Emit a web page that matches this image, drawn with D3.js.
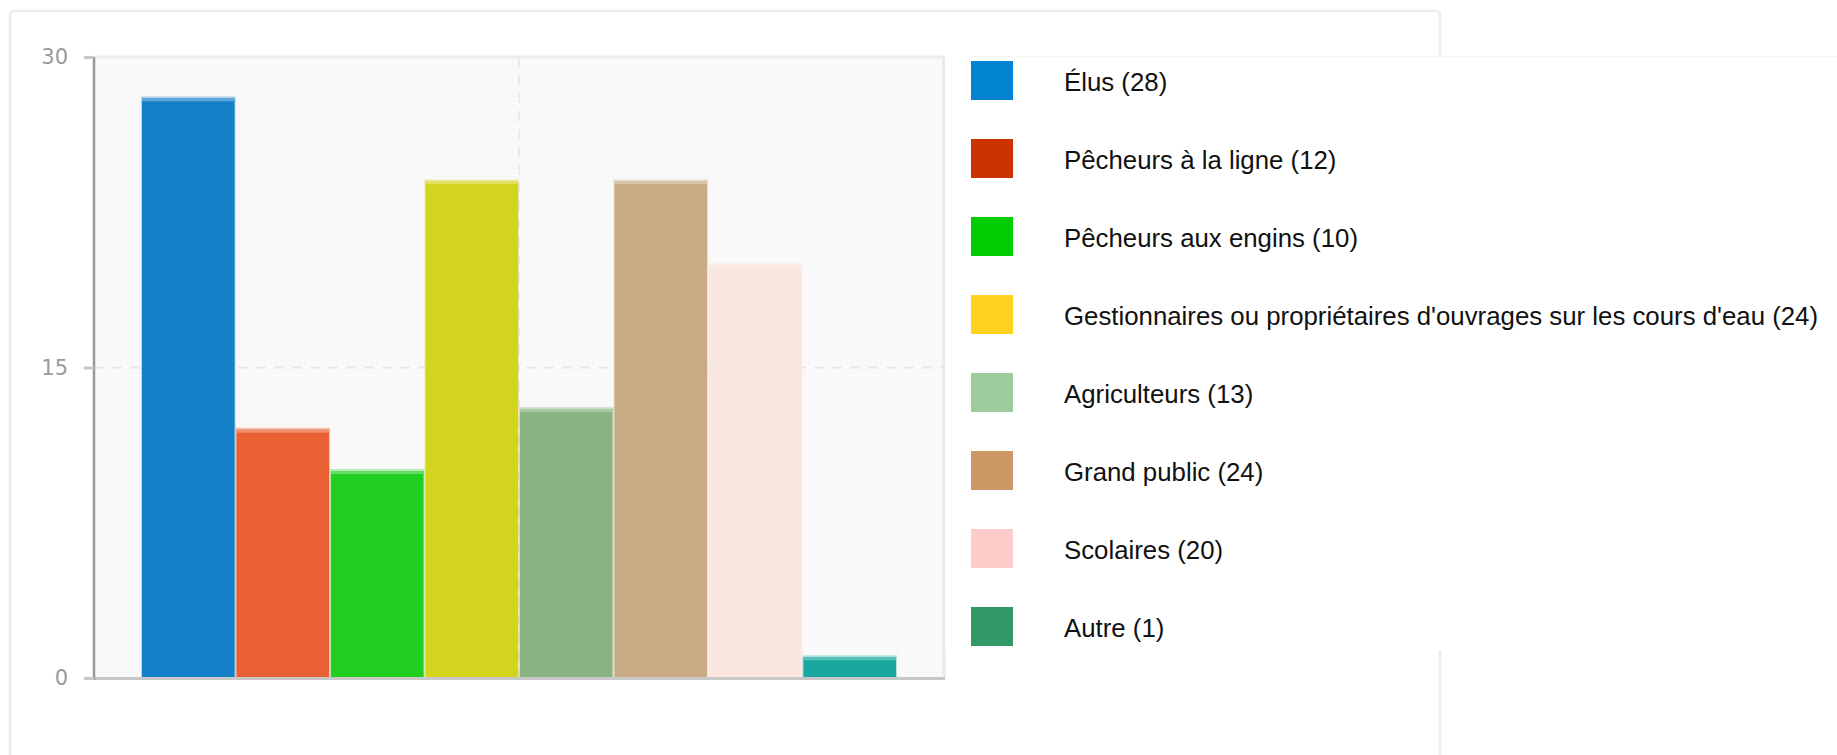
<!DOCTYPE html>
<html>
<head>
<meta charset="utf-8">
<script src="https://cdn.jsdelivr.net/npm/d3@7"></script>
<style>
  html, body { margin: 0; padding: 0; background: #ffffff; }
  svg { display: block; }
</style>
</head>
<body>
<svg id="chart" width="1837" height="755"></svg>
<script>
// ---- data ----
const categories = ["Élus", "Pêcheurs à la ligne", "Pêcheurs aux engins",
  "Gestionnaires ou propriétaires d'ouvrages sur les cours d'eau",
  "Agriculteurs", "Grand public", "Scolaires", "Autre"];
const values = [28, 12, 10, 24, 13, 24, 20, 1];
const barColors = ["#1480C8", "#E86034", "#21CF21", "#D3D41E", "#8AB383", "#C8AB84", "#F9E7DF", "#19A89F"];
const legendColors = ["#0084D1", "#CC3300", "#00CC00", "#FFD320", "#9CCC9C", "#CC9966", "#FFCCCC", "#339966"];
const yTicks = [0, 15, 30];

const svg = d3.select("#chart");

// card
svg.append("rect").attr("x", 10).attr("y", 11).attr("width", 1430).attr("height", 760)
  .attr("rx", 4).attr("fill", "#fff").attr("stroke", "#ececec").attr("stroke-width", 2.5);

// plot area
const plot = {left: 94, right: 944, top: 57, bottom: 678};
const y = d3.scaleLinear().domain([0, 30]).range([plot.bottom, plot.top]);
const x = d3.scaleBand().domain(categories).range([142, 896]).paddingInner(0.02).paddingOuter(0);
const gx = d3.scaleLinear().domain([0, 1]).range([plot.left, plot.right]);

// background pattern
const defs = svg.append("defs");
const pat = defs.append("pattern").attr("id", "bgpat").attr("width", 4).attr("height", 4)
  .attr("patternUnits", "userSpaceOnUse");
pat.append("rect").attr("width", 4).attr("height", 4).attr("fill", "#fafafa");
pat.append("rect").attr("x", 0).attr("y", 0).attr("width", 1).attr("height", 1).attr("fill", "#f0f0f0");
pat.append("rect").attr("x", 2).attr("y", 2).attr("width", 1).attr("height", 1).attr("fill", "#f3f3f3");

svg.append("rect").attr("x", plot.left).attr("y", plot.top)
  .attr("width", plot.right - plot.left).attr("height", plot.bottom - plot.top)
  .attr("fill", "url(#bgpat)");

// gridlines
svg.append("line").attr("x1", plot.left).attr("x2", plot.right)
  .attr("y1", y(15)).attr("y2", y(15))
  .attr("stroke", "#e8e8e8").attr("stroke-width", 2).attr("stroke-dasharray", "10,8");
svg.append("line").attr("x1", gx(0.5)).attr("x2", gx(0.5))
  .attr("y1", plot.top).attr("y2", plot.bottom)
  .attr("stroke", "#eaeaea").attr("stroke-width", 2).attr("stroke-dasharray", "10,8");

// top and right borders
svg.append("line").attr("x1", plot.left).attr("x2", plot.right + 1)
  .attr("y1", plot.top).attr("y2", plot.top).attr("stroke", "#ededed").attr("stroke-width", 3);
svg.append("line").attr("x1", plot.right).attr("x2", plot.right)
  .attr("y1", plot.top).attr("y2", plot.bottom).attr("stroke", "#e8e8e8").attr("stroke-width", 3);

// bars
const bars = svg.append("g").selectAll("g").data(categories).join("g");
bars.append("rect")
  .attr("x", d => x(d) - 1).attr("width", x.bandwidth() + 2)
  .attr("y", (d, i) => y(values[i]) - 2).attr("height", (d, i) => plot.bottom - y(values[i]) + 4)
  .attr("fill", (d, i) => barColors[i]).attr("opacity", 0.3);
bars.append("rect")
  .attr("x", d => x(d)).attr("width", x.bandwidth())
  .attr("y", (d, i) => y(values[i])).attr("height", (d, i) => plot.bottom + 2 - y(values[i]))
  .attr("fill", (d, i) => barColors[i]);
bars.append("rect")
  .attr("x", d => x(d)).attr("width", x.bandwidth())
  .attr("y", (d, i) => y(values[i])).attr("height", 3)
  .attr("fill", (d, i) => d3.interpolateRgb(barColors[i], "#ffffff")(0.3));

// x axis baseline
svg.append("line").attr("x1", plot.left - 10).attr("x2", plot.right + 1)
  .attr("y1", plot.bottom + 0.5).attr("y2", plot.bottom + 0.5)
  .attr("stroke", "#c8c8c8").attr("stroke-width", 3);

// y axis
const yAxis = svg.append("g").attr("transform", `translate(${plot.left},0)`)
  .call(d3.axisLeft(y).tickValues(yTicks).tickSize(10).tickPadding(16).tickFormat(d3.format("d")));
yAxis.select(".domain").attr("stroke", "#999").attr("stroke-width", 2.5)
  .attr("d", `M0,${plot.top}V${plot.bottom + 2}`);
yAxis.selectAll(".tick line").attr("stroke", "#c8c8c8").attr("stroke-width", 3);
yAxis.selectAll(".tick text").attr("fill", "#9a9a9a")
  .style("font-family", "'DejaVu Sans', sans-serif").style("font-size", "21px");

// legend
svg.append("rect").attr("x", 945).attr("y", 56).attr("width", 892).attr("height", 594).attr("fill", "#fff");
svg.append("line").attr("x1", 965).attr("x2", 1837).attr("y1", 56.5).attr("y2", 56.5)
  .attr("stroke", "#f6f6f6").attr("stroke-width", 1);

const legendY = d3.scalePoint().domain(categories).range([80.5, 626.5]);
const lg = svg.append("g").selectAll("g").data(categories).join("g")
  .attr("transform", d => `translate(0,${legendY(d)})`);
lg.append("rect").attr("x", 971).attr("y", -19.5).attr("width", 42).attr("height", 39)
  .attr("fill", (d, i) => legendColors[i]);
lg.append("text").attr("x", 1064).attr("y", 10)
  .style("font-family", "'Liberation Sans', Arial, sans-serif").style("font-size", "25.8px")
  .attr("fill", "#111")
  .text((d, i) => `${d} (${values[i]})`);
</script>
</body>
</html>
